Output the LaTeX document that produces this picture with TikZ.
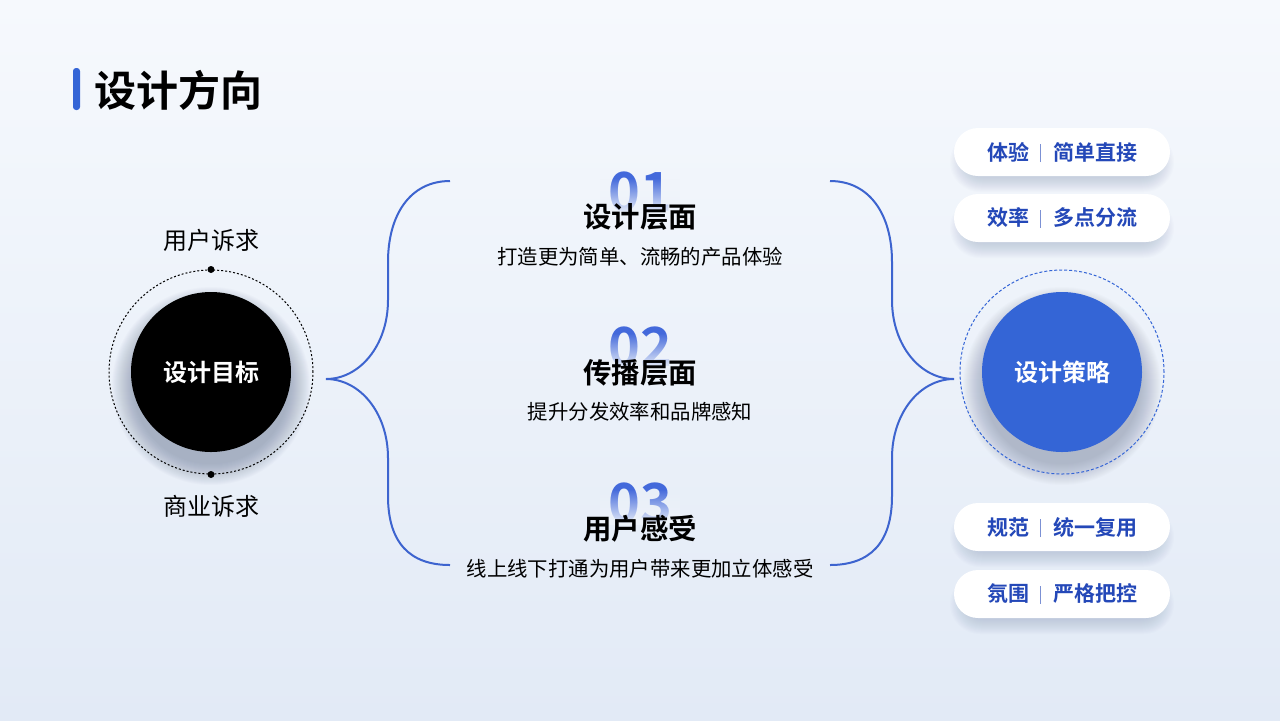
\documentclass[tikz,border=0pt]{standalone}
\usepackage{fontspec}
\setmainfont{Noto Sans CJK SC}[BoldFont={Noto Sans CJK SC Bold}]
\usetikzlibrary{fadings}
\definecolor{bgtop}{HTML}{F6F9FD}
\definecolor{bgbot}{HTML}{E2EAF6}
\definecolor{bgmid}{HTML}{EEF3FA}
\definecolor{blueC}{HTML}{3465D6}
\definecolor{pilltext}{HTML}{2448B8}
\definecolor{brk}{HTML}{3D64CF}
\definecolor{numblue}{HTML}{4369DB}
\definecolor{shadowc}{HTML}{5A6888}
\definecolor{pillsh}{HTML}{7D8FB8}
\tikzset{
  bracket/.style={draw=brk, line width=1pt},
  pill/.style={fill=white, rounded corners=12pt, minimum width=108pt, minimum height=24pt,
    inner sep=0pt, text=pilltext, font=\bfseries\fontsize{10.5pt}{12pt}\selectfont},
  heading/.style={font=\bfseries\fontsize{14.2pt}{16pt}\selectfont, text=black},
  sub/.style={font=\fontsize{10.2pt}{12pt}\selectfont, text=black},
  num/.style={font=\bfseries\fontsize{27pt}{30pt}\selectfont, text=numblue, inner sep=0pt},
  lbl/.style={font=\fontsize{12pt}{14pt}\selectfont, text=black},
}
\newcommand{\sepbar}{\hspace{5.5pt}{\color{pilltext!60}\rule[-1pt]{0.5pt}{9pt}}\hspace{6pt}}
\newcommand{\circshadow}[3]{% x, y, opacity per layer
  \foreach \i in {0,...,21}{\fill[shadowc, opacity=#3] (#1,#2) circle[radius=78+\i];}}
\newcommand{\pillshadow}[2]{%
  \foreach \i in {0,...,15}{\fill[pillsh, opacity=0.022, rounded corners={(15+\i)*0.5pt}]
    ({#1-94-1.2*\i},{#2-15-\i}) rectangle ({#1+94+1.2*\i},{#2+15+\i});}}
\begin{document}
\begin{tikzpicture}[x=0.5pt,y=-0.5pt]
\useasboundingbox (0,0) rectangle (1280,720);
\shade[top color=bgtop, bottom color=bgbot] (0,0) rectangle (1280,720);

% title
\fill[blueC, rounded corners=1.5pt] (73,68) rectangle (80,110);
\node[anchor=west, inner sep=0pt, font=\bfseries\fontsize{21pt}{24pt}\selectfont] (title) at (94,90) {设计方向};

% left circle
\circshadow{211}{386}{0.022}
\node[circle, draw=black, line width=0.5pt, dash pattern=on 1pt off 1pt, minimum size=102pt] (ring) at (211,372) {};
\node[circle, fill=black, minimum size=80pt, text=white, font=\bfseries\fontsize{12pt}{14pt}\selectfont] (goal) at (211,372) {设计目标};
\fill[black] (ring.north) circle[radius=3.5];
\fill[black] (ring.south) circle[radius=3.5];
\node[lbl] (u) at (211,240) {用户诉求};
\node[lbl] (b) at (211,506) {商业诉求};

% right circle
\circshadow{1062}{386}{0.018}
\node[circle, draw=blueC, line width=0.5pt, dash pattern=on 1.5pt off 1pt, minimum size=102pt] (ring2) at (1062,372) {};
\node[circle, fill=blueC, minimum size=80pt, text=white, font=\bfseries\fontsize{12pt}{14pt}\selectfont] (strat) at (1062,372) {设计策略};

% brackets
\coordinate (lt) at (450,181); \coordinate (lb) at (450,565); \coordinate (ltip) at (326,379);
\coordinate (rt) at (830,181); \coordinate (rb) at (830,565); \coordinate (rtip) at (954,379);
\draw[bracket] (lt) .. controls (410,181) and (388,215) .. (388,262) -- (388,300)
  .. controls (388,345) and (360,379) .. (ltip)
  .. controls (360,379) and (388,413) .. (388,458) -- (388,496)
  .. controls (388,543) and (410,565) .. (lb);
\draw[bracket] (rt) .. controls (870,181) and (892,215) .. (892,262) -- (892,300)
  .. controls (892,345) and (920,379) .. (rtip)
  .. controls (920,379) and (892,413) .. (892,458) -- (892,496)
  .. controls (892,543) and (870,565) .. (rb);

% numbers with fading
\node[num] (n1) at (640,192) {01};
\node[num] (n2) at (640,347) {02};
\node[num] (n3) at (640,503) {03};
\fill[bgmid, path fading=north] (600,178) rectangle (680,214);
\fill[bgmid, path fading=north] (600,333) rectangle (680,369);
\fill[bgmid, path fading=north] (600,489) rectangle (680,525);

% middle texts
\node[heading] (h1) at (640,217) {设计层面};
\node[sub] (s1) at (640,257) {打造更为简单、流畅的产品体验};
\node[heading] (h2) at (640,373) {传播层面};
\node[sub] (s2) at (640,412) {提升分发效率和品牌感知};
\node[heading] (h3) at (640,529) {用户感受};
\node[sub] (s3) at (640,569) {线上线下打通为用户带来更加立体感受};

% pills
\pillshadow{1062}{162}
\pillshadow{1062}{228}
\pillshadow{1062}{537}
\pillshadow{1062}{604}
\node[pill] (p1) at (1062,152) {体验\sepbar 简单直接};
\node[pill] (p2) at (1062,218) {效率\sepbar 多点分流};
\node[pill] (p3) at (1062,527) {规范\sepbar 统一复用};
\node[pill] (p4) at (1062,594) {氛围\sepbar 严格把控};
\end{tikzpicture}
\end{document}
